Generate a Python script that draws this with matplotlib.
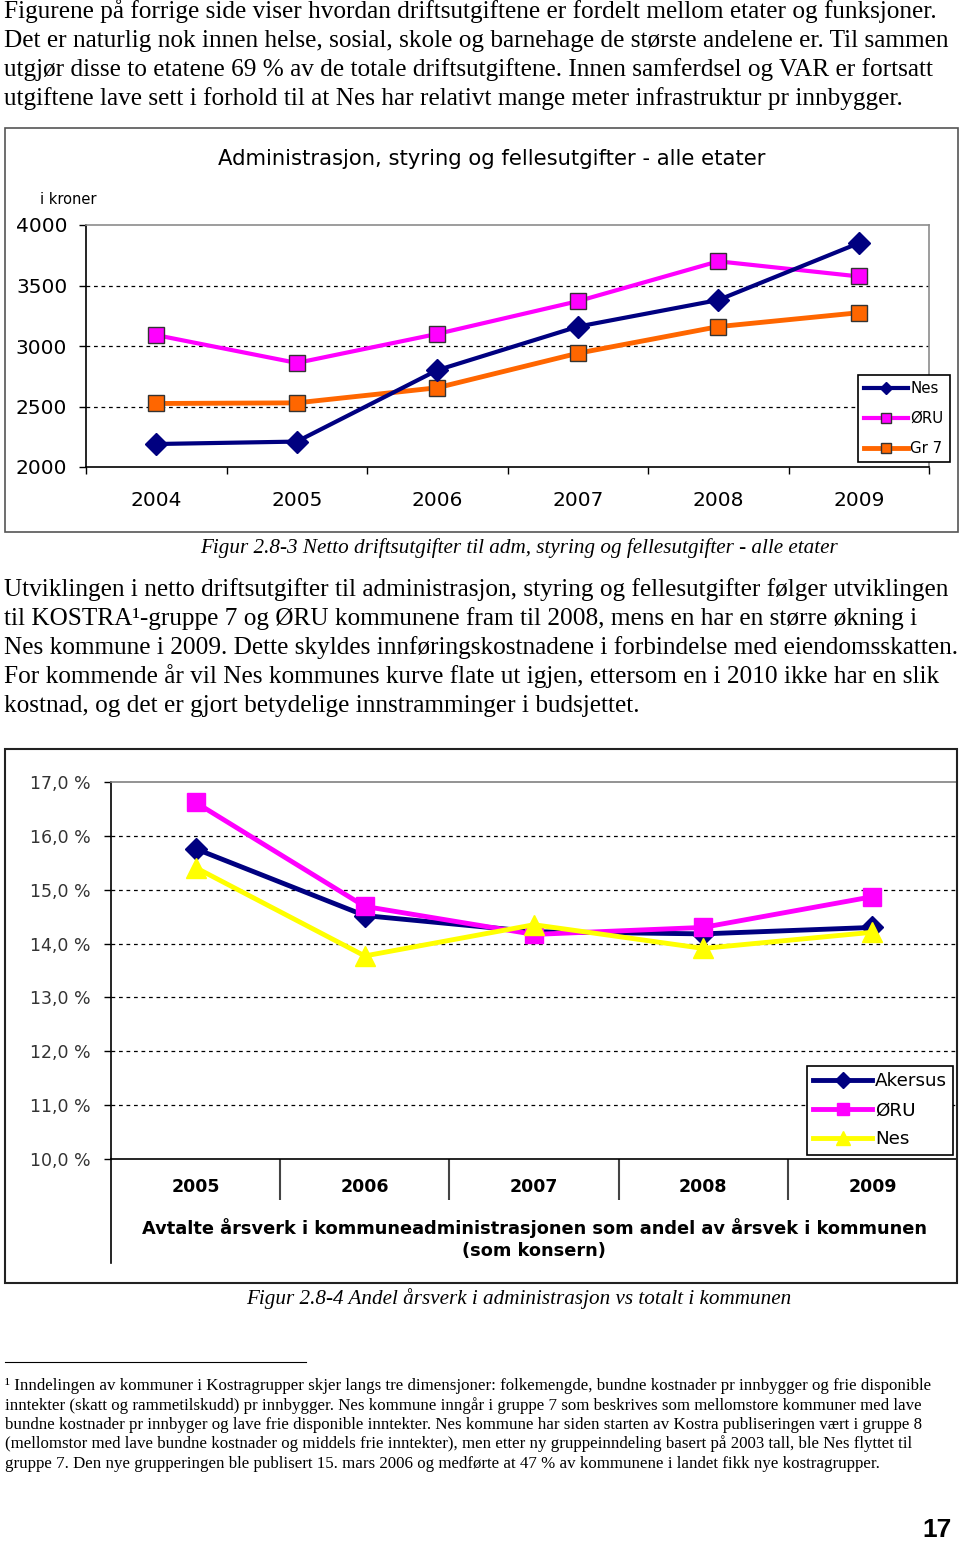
import numpy as np
import matplotlib
matplotlib.use('Agg')
import matplotlib.pyplot as plt
import matplotlib.patches as mpatches
from matplotlib.lines import Line2D

# page size in pixels (dpi 100)
W, H = 960, 1543

# Figur 2.8-3: netto driftsutgifter adm/styring, kroner pr innbygger
years_1 = ['2004', '2005', '2006', '2007', '2008', '2009']
nes_kr = [2190, 2210, 2800, 3160, 3380, 3850]
oru_kr = [3090, 2860, 3100, 3370, 3700, 3575]
gr7_kr = [2525, 2530, 2655, 2940, 3160, 3275]
ticks_kr = [2000, 2500, 3000, 3500, 4000]

# Figur 2.8-4: andel årsverk i administrasjon (%)
years_2 = ['2005', '2006', '2007', '2008', '2009']
akershus_pct = [15.76, 14.52, 14.22, 14.18, 14.30]
oru_pct = [16.62, 14.69, 14.17, 14.30, 14.87]
nes_pct = [15.41, 13.77, 14.35, 13.91, 14.21]
ticks_pct = [10, 11, 12, 13, 14, 15, 16, 17]

para1 = [
    "Figurene på forrige side viser hvordan driftsutgiftene er fordelt mellom etater og funksjoner.",
    "Det er naturlig nok innen helse, sosial, skole og barnehage de største andelene er. Til sammen",
    "utgjør disse to etatene 69 % av de totale driftsutgiftene. Innen samferdsel og VAR er fortsatt",
    "utgiftene lave sett i forhold til at Nes har relativt mange meter infrastruktur pr innbygger.",
]
para2 = [
    "Utviklingen i netto driftsutgifter til administrasjon, styring og fellesutgifter følger utviklingen",
    "til KOSTRA¹-gruppe 7 og ØRU kommunene fram til 2008, mens en har en større økning i",
    "Nes kommune i 2009. Dette skyldes innføringskostnadene i forbindelse med eiendomsskatten.",
    "For kommende år vil Nes kommunes kurve flate ut igjen, ettersom en i 2010 ikke har en slik",
    "kostnad, og det er gjort betydelige innstramminger i budsjettet.",
]
footnote = [
    "¹ Inndelingen av kommuner i Kostragrupper skjer langs tre dimensjoner: folkemengde, bundne kostnader pr innbygger og frie disponible",
    "inntekter (skatt og rammetilskudd) pr innbygger. Nes kommune inngår i gruppe 7 som beskrives som mellomstore kommuner med lave",
    "bundne kostnader pr innbyger og lave frie disponible inntekter. Nes kommune har siden starten av Kostra publiseringen vært i gruppe 8",
    "(mellomstor med lave bundne kostnader og middels frie inntekter), men etter ny gruppeinndeling basert på 2003 tall, ble Nes flyttet til",
    "gruppe 7. Den nye grupperingen ble publisert 15. mars 2006 og medførte at 47 % av kommunene i landet fikk nye kostragrupper.",
]

plt.rcParams['font.family'] = ['DejaVu Sans']
serif = 'Liberation Serif'


def fy(y):
    # pixel row -> figure fraction
    return 1 - y / H


def box(l, t, r, b):
    return [l / W, 1 - b / H, (r - l) / W, (b - t) / H]


fig = plt.figure(figsize=(W / 100, H / 100), dpi=100)

# ---- body text ----
for i, line in enumerate(para1):
    fig.text(4 / W, fy(18 + 29 * i), line, family=serif, size=18.2, va='baseline')
for i, line in enumerate(para2):
    fig.text(4 / W, fy(596 + 29 * i), line, family=serif, size=18.2, va='baseline')

fig.text(519 / W, fy(553), 'Figur 2.8-3 Netto driftsutgifter til adm, styring og fellesutgifter - alle etater',
         family=serif, style='italic', size=15.2, ha='center', va='baseline')
fig.text(519 / W, fy(1304), 'Figur 2.8-4 Andel årsverk i administrasjon vs totalt i kommunen',
         family=serif, style='italic', size=15.2, ha='center', va='baseline')

fig.add_artist(Line2D([5 / W, 306 / W], [fy(1362), fy(1362)], color='black', lw=0.8))
for i, line in enumerate(footnote):
    fig.text(5 / W, fy(1390 + 19.5 * i), line, family=serif, size=12.15, va='baseline')

fig.text(952 / W, fy(1542), '17', family='Liberation Sans', weight='bold', size=19,
         ha='right', va='bottom')

# ---- chart 1 ----
fig.add_artist(mpatches.Rectangle((5 / W, fy(532)), 953 / W, 404 / H, transform=fig.transFigure,
                                  fill=False, edgecolor='#555555', lw=1.2))
fig.text(492 / W, fy(159), 'Administrasjon, styring og fellesutgifter - alle etater',
         ha='center', va='center', size=15.2)
fig.text(40 / W, fy(200), 'i kroner', va='center', size=10.5)

ax1 = fig.add_axes(box(86, 225, 929, 467))
x1 = np.arange(len(years_1))
ax1.plot(x1, oru_kr, color='#FF00FF', lw=3, marker='s', ms=12, mec='#333333', mew=1, label='ØRU', zorder=3)
ax1.plot(x1, gr7_kr, color='#FF6600', lw=3.5, marker='s', ms=12, mec='#333333', mew=1, label='Gr 7', zorder=3)
ax1.plot(x1, nes_kr, color='#000080', lw=3, marker='D', ms=11, mec='#000080', label='Nes', zorder=4)

ax1.set_xlim(-0.5, len(years_1) - 0.5)
ax1.set_ylim(ticks_kr[0], ticks_kr[-1])
ax1.set_yticks(ticks_kr)
ax1.yaxis.grid(True, color='black', lw=0.9, ls=(0, (3, 3)))
for gl in (ax1.get_ygridlines()[0], ax1.get_ygridlines()[-1]):
    gl.set_visible(False)
ax1.set_axisbelow(True)
ax1.tick_params(axis='y', direction='out', length=5, width=1, labelsize=14.5, pad=8.5)

ax1.set_xticks(np.arange(-0.5, len(years_1), 1))
ax1.set_xticklabels([])
ax1.set_xticks(x1, minor=True)
ax1.set_xticklabels(years_1, minor=True)
ax1.tick_params(axis='x', which='major', direction='out', length=5, width=1)
ax1.tick_params(axis='x', which='minor', length=0, pad=17, labelsize=14.5)

for s in ('top', 'right'):
    ax1.spines[s].set_color('#8c8c8c')
    ax1.spines[s].set_linewidth(1.2)
for s in ('left', 'bottom'):
    ax1.spines[s].set_linewidth(1.2)

h, lab = ax1.get_legend_handles_labels()
order = [2, 0, 1]
leg1 = ax1.legend([h[i] for i in order], [lab[i] for i in order], loc='upper left',
                  bbox_to_anchor=(858 / W, fy(375)), bbox_transform=fig.transFigure,
                  fancybox=False, edgecolor='black', framealpha=1, fontsize=10.8,
                  handlelength=2.9, handletextpad=0.2, labelspacing=1.0, borderpad=0.4,
                  borderaxespad=0, markerscale=0.55)
leg1.get_frame().set_linewidth(1.2)

# ---- chart 2 ----
fig.add_artist(mpatches.Rectangle((5 / W, fy(1283)), 952 / W, 534 / H, transform=fig.transFigure,
                                  fill=False, edgecolor='#222222', lw=1.5))

ax2 = fig.add_axes(box(111, 782, 957, 1159))
x2 = np.arange(len(years_2))
ax2.plot(x2, akershus_pct, color='#000080', lw=3.5, marker='D', ms=11, label='Akersus')
ax2.plot(x2, oru_pct, color='#FF00FF', lw=3.5, marker='s', ms=13, label='ØRU')
ax2.plot(x2, nes_pct, color='#FFFF00', lw=3.5, marker='^', ms=14, label='Nes')

ax2.set_xlim(-0.5, len(years_2) - 0.5)
ax2.set_ylim(ticks_pct[0], ticks_pct[-1])
ax2.set_yticks(ticks_pct)
ax2.set_yticklabels([f'{v:.1f} %'.replace('.', ',') for v in ticks_pct])
ax2.yaxis.grid(True, color='black', lw=0.9, ls=(0, (3, 3)))
for gl in (ax2.get_ygridlines()[0], ax2.get_ygridlines()[-1]):
    gl.set_visible(False)
ax2.set_axisbelow(True)
ax2.tick_params(axis='y', direction='out', length=5, width=1, labelsize=12.5, pad=9.4,
                labelcolor='#333333')

ax2.set_xticks(np.arange(0.5, len(years_2) - 1, 1))
ax2.set_xticklabels([])
ax2.set_xticks(x2, minor=True)
ax2.set_xticklabels(years_2, minor=True, weight='bold')
ax2.tick_params(axis='x', which='major', direction='out', length=29.5, width=1.5, color='#444444')
ax2.tick_params(axis='x', which='minor', length=0, pad=14, labelsize=12.5)

ax2.spines['top'].set_color('#808080')
ax2.spines['top'].set_linewidth(1.2)
ax2.spines['right'].set_visible(False)
for s in ('left', 'bottom'):
    ax2.spines[s].set_linewidth(1.2)
# left axis line runs on down through the category label area
fig.add_artist(Line2D([111 / W, 111 / W], [fy(1159), fy(1263)], color='black', lw=1.2))

fig.text(534 / W, fy(1239),
         'Avtalte årsverk i kommuneadministrasjonen som andel av årsvek i kommunen\n(som konsern)',
         ha='center', va='center', weight='bold', size=12.8, linespacing=1.35)

leg2 = ax2.legend(loc='upper left', bbox_to_anchor=(807 / W, fy(1066)), bbox_transform=fig.transFigure,
                  fancybox=False, edgecolor='black', framealpha=1, fontsize=13.2,
                  handlelength=3.2, handletextpad=0.15, labelspacing=0.6, borderpad=0.35,
                  borderaxespad=0, markerscale=0.7)
leg2.get_frame().set_linewidth(1.2)

fig.savefig('out.png', dpi=100)
